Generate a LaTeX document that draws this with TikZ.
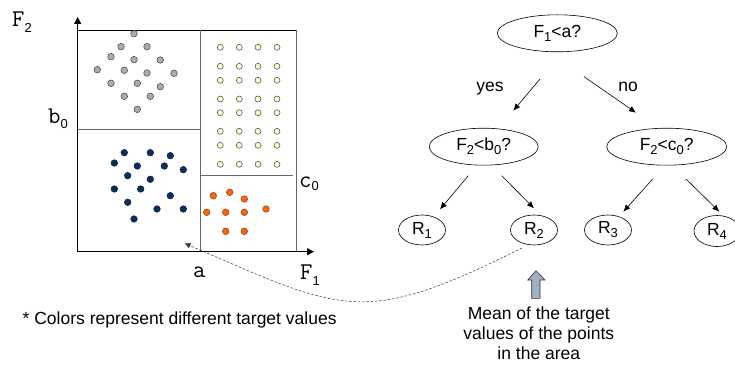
\documentclass[tikz,border=0pt]{standalone}
\usepackage{fontspec}
\setmainfont{Liberation Sans}
\usetikzlibrary{arrows.meta,shapes.geometric}
\newcommand\mysub[2]{\raisebox{-#1pt}{\rmfamily\fontsize{13}{13}\selectfont #2}}
\definecolor{dotgray}{HTML}{A3AEBB}
\definecolor{dotnavy}{HTML}{0C2E5C}
\definecolor{dotcream}{HTML}{FFFBCC}
\definecolor{dotorange}{HTML}{FA6410}
\definecolor{linegray}{HTML}{666666}
\definecolor{arrowgray}{HTML}{A2B1C2}
\begin{document}
\begin{tikzpicture}[x=1pt,y=-1pt,
  axis/.style={line width=1pt,-{Triangle[length=7pt,width=7pt]}},
  frame/.style={line width=0.9pt,linegray},
  dotA/.style={circle,inner sep=0pt,minimum size=6.6pt,draw=black!75,line width=0.5pt},
  monolab/.style={inner sep=0pt,anchor=base west,font=\ttfamily\fontsize{24}{24}\selectfont},
  treefont/.style={font=\fontsize{17.5}{20}\selectfont},
  bignode/.style={ellipse,inner sep=0pt,treefont},
  leaf/.style={ellipse,inner sep=0pt,minimum width=47pt,minimum height=30pt,treefont},
  outline/.style={draw,line width=0.6pt},
  edge/.style={line width=0.6pt,-{Latex[length=7pt,width=6pt]}}
]
\useasboundingbox (0,0) rectangle (735,366);

% frame and partitions
\draw[line width=0.9pt] (77.7,30.3) -- (296,30.3);
\draw[frame] (296,30.3) -- (296,251.7);
\draw[frame] (200,30.3) -- (200,251.7);
\draw[frame] (77.7,129.3) -- (200,129.3);
\draw[frame] (200,175) -- (292.7,175);
\coordinate (orig) at (77.7,251.7);
\coordinate (ytip) at (77.7,17);
\coordinate (xtip) at (314,251.7);
\draw[axis] (orig) -- (ytip);
\draw[axis] (orig) -- (xtip);

% dots
\foreach \p in {(134,33.7),(121,46.7),(147,46.7),(111,56.7),(134,59.7),(160.3,60),(97.3,69.7),(124.3,70.3),(147,73),(174,73.3),(111,83.3),(137.3,83.3),(160.3,86.7),(124.3,96.3),(150.3,96.3),(137.3,109.3)}
  \node[dotA,fill=dotgray] at \p {};
\foreach \p in {(124.3,152.7),(150.3,152.7),(170.3,155.7),(114.3,163),(137.3,166),(164.3,166),(183.3,169.7),(127.7,175.7),(150.3,179.3),(114.3,189),(140.7,189),(170.3,195.7),(127.7,202.3),(157,209),(183.3,209),(134,219)}
  \node[dotA,fill=dotnavy,draw=dotnavy!70!black] at \p {};
\foreach \yy in {47.3,66.3,80.3,99,112.7,131.3,145.3,164.3}
  \foreach \xx in {220.3,239.3,258,277}
    \node[dotA,fill=dotcream,minimum size=6pt] at (\xx,\yy) {};
\foreach \p in {(213.3,195.7),(229.7,192.3),(244.3,199),(206.7,212.3),(225.7,212.3),(244.3,212.3),(266,209),(225.7,231.3),(244.3,231.3)}
  \node[dotA,fill=dotorange,draw=dotorange!60!black] at \p {};

% axis labels
\node[monolab] (lF2) at (12,26.7) {F\mysub{6}{2}};
\node[monolab] (lb0) at (48,124) {b\mysub{5}{0}};
\node[monolab] (lc0) at (299,187) {c\mysub{3}{0}};
\node[monolab] (la) at (193,277) {a};
\node[monolab] (lF1) at (300,279) {F\mysub{6}{1}};

% tree
\node[bignode,minimum width=120pt,minimum height=37pt] (root) at (557.3,33.3) {F\mysub{4}{1}<a?};
\node[bignode,minimum width=109pt,minimum height=37pt] (left) at (483.7,146.7) {F\mysub{4}{2}<b\mysub{4}{0}?};
\node[bignode,minimum width=120pt,minimum height=37pt] (right) at (666.7,146.7) {F\mysub{4}{2}<c\mysub{4}{0}?};
\node[leaf] (R1) at (422,230) {R\mysub{4}{1}};
\node[leaf] (R2) at (534,230) {R\mysub{4}{2}};
\node[leaf] (R3) at (608,230) {R\mysub{4}{3}};
\node[leaf,minimum width=46pt,minimum height=31pt] (R4) at (717,231) {R\mysub{4}{4}};
\draw[outline] (root.center) ellipse [x radius=60pt, y radius=18.5pt];
\draw[outline] (left.center) ellipse [x radius=54.5pt, y radius=18.5pt];
\draw[outline] (right.center) ellipse [x radius=60pt, y radius=18.5pt];
\draw[outline] (R1.center) ellipse [x radius=23.5pt, y radius=15pt];
\draw[outline] (R2.center) ellipse [x radius=23.5pt, y radius=15pt];
\draw[outline] (R3.center) ellipse [x radius=23.5pt, y radius=15pt];
\draw[outline] (R4.center) ellipse [x radius=23pt, y radius=15.5pt];

\draw[edge] ([shift={(-17.3,45.7)}]root.center) -- ([shift={(29.6,-36)}]left.center);
\draw[edge] ([shift={(26.7,43.4)}]root.center) -- ([shift={(-30.7,-34)}]right.center);
\draw[edge] ([shift={(-15.4,29)}]left.center) -- ([shift={(18,-20.7)}]R1.center);
\draw[edge] ([shift={(18,29)}]left.center) -- ([shift={(0,-21.7)}]R2.center);
\draw[edge] ([shift={(-14,32.3)}]right.center) -- ([shift={(15.3,-18.3)}]R3.center);
\draw[edge] ([shift={(19.3,32.3)}]right.center) -- ([shift={(2.3,-19.3)}]R4.center);

\node[treefont,inner sep=0pt,anchor=base] (yes) at (490,91.7) {yes};
\node[treefont,inner sep=0pt,anchor=base] (no) at (628,91.7) {no};

% dashed link
\coordinate (aim) at (184.5,243.3);
\draw[line width=0.5pt,black!80,dash pattern=on 2.5pt off 1.8pt,-{Latex[length=6pt,width=5.5pt]}]
  ([shift={(-12,18)}]R2.center) .. controls (361.7,328) and (343.5,311.7) .. (aim);

% gray block arrow
\draw[fill=arrowgray,draw=black!80,line width=0.6pt]
  (536,270.7) -- (545,280) -- (540,280) -- (540,298.3) -- (531.7,298.3) -- (531.7,280) -- (527.7,280) -- cycle;

% texts
\node[treefont,inner sep=0pt,anchor=north,align=center] (mean) at (538.8,306.5)
  {Mean of the target\\values of the points\\in the area};
\node[treefont,inner sep=0pt,anchor=base west] (note) at (22.5,324)
  {* Colors represent different target values};
\end{tikzpicture}
\end{document}
